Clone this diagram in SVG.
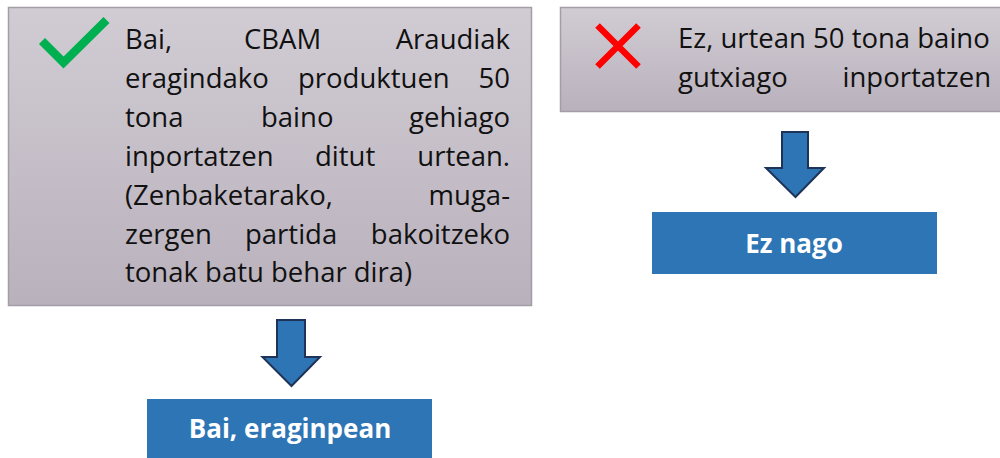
<svg xmlns="http://www.w3.org/2000/svg" width="1000" height="458" viewBox="0 0 1000 458">
<style>
.t{font-family:"Open Sans","Liberation Sans",sans-serif;font-size:27.5px;fill:#111}
.e{text-anchor:end}
.b{font-family:"Open Sans","Liberation Sans",sans-serif;font-size:26px;font-weight:bold;fill:#fff;text-anchor:middle}
.box{fill:url(#g);stroke:#A39DA6;stroke-width:1.5}
.res{fill:#2E75B6}
.arr{fill:#2E75B6;stroke:#1F3358;stroke-width:2;stroke-linejoin:miter}
</style>
<defs>
<linearGradient id="g" x1="0" y1="0" x2="0" y2="1">
<stop offset="0" stop-color="#D1CCD4"/>
<stop offset="1" stop-color="#B9B1BC"/>
</linearGradient>
</defs>
<g id="node-yes">
<rect class="box" x="8.5" y="7.5" width="523" height="298"/>
<polyline points="42,41 63.5,62.5 106.5,20" fill="none" stroke="#00B050" stroke-width="8.5" stroke-linejoin="miter" stroke-miterlimit="10"/>
<text class="t" x="125" y="49.3">Bai,</text>
<text class="t" x="244" y="49.3">CBAM</text>
<text class="t e" x="510" y="49.3">Araudiak</text>
<text class="t" x="125" y="88.1">eragindako</text>
<text class="t" x="298" y="88.1">produktuen</text>
<text class="t e" x="510" y="88.1">50</text>
<text class="t" x="125" y="127">tona</text>
<text class="t" x="261" y="127">baino</text>
<text class="t e" x="510" y="127">gehiago</text>
<text class="t" x="125" y="165.8">inportatzen</text>
<text class="t" x="315" y="165.8">ditut</text>
<text class="t e" x="510" y="165.8">urtean.</text>
<text class="t" x="125" y="204.6">(Zenbaketarako,</text>
<text class="t e" x="510" y="204.6">muga-</text>
<text class="t" x="125" y="243.5">zergen</text>
<text class="t" x="245" y="243.5">partida</text>
<text class="t e" x="510" y="243.5">bakoitzeko</text>
<text class="t" x="125" y="282.3">tonak batu behar dira)</text>
</g>
<g id="node-no">
<rect class="box" x="560.5" y="7.5" width="450" height="104"/>
<path d="M597.5,25.5 L638.5,66.5 M638.5,25.5 L597.5,66.5" stroke="#FF0000" stroke-width="6.5" fill="none"/>
<text class="t" x="678" y="48">Ez, urtean 50 tona baino</text>
<text class="t" x="678" y="87.3">gutxiago</text>
<text class="t e" x="991" y="87.3">inportatzen</text>
</g>
<g id="node-bai-eraginpean">
<rect class="res" x="147" y="399" width="285" height="70"/>
<text class="b" x="290" y="438.3">Bai, eraginpean</text>
</g>
<g id="node-ez-nago">
<rect class="res" x="652" y="212" width="285" height="62"/>
<text class="b" x="794" y="253.3">Ez nago</text>
</g>
<g id="connectors">
<polygon class="arr" points="277,320 305,320 305,357 320,357 291.5,386 262.5,357 277,357"/>
<polygon class="arr" points="782,132 808,132 808,168 824,168 795.5,197 766,168 782,168"/>
</g>
</svg>
